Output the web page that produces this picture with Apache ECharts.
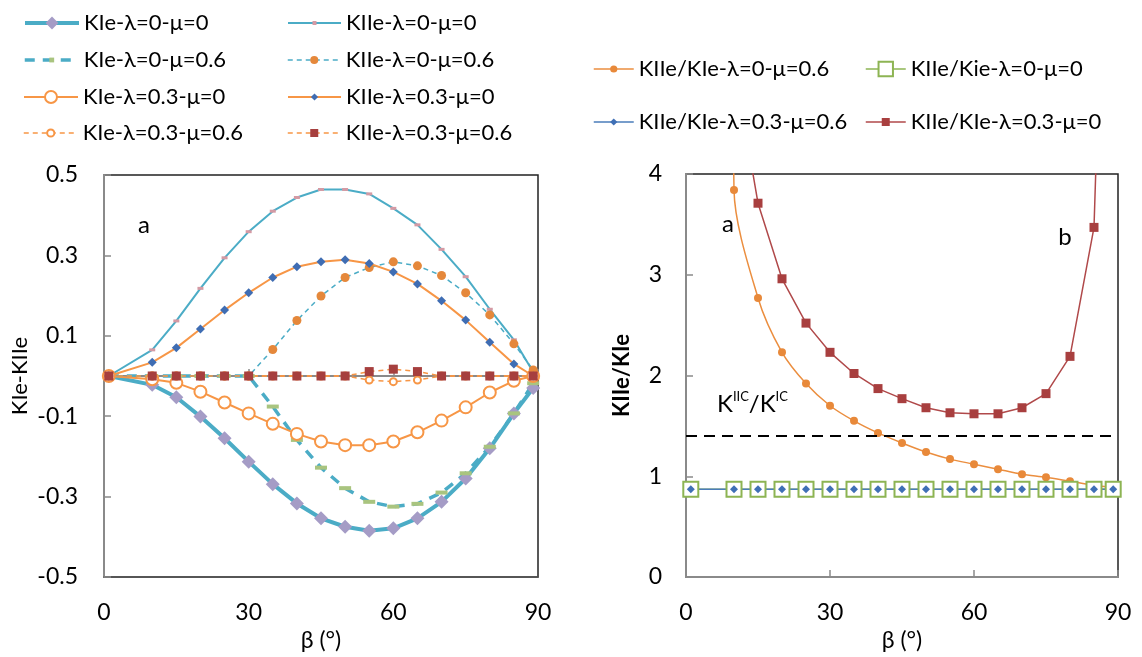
<!DOCTYPE html>
<html>
<head>
<meta charset="utf-8">
<script src="https://cdn.jsdelivr.net/npm/echarts@6/dist/echarts.min.js"></script>
<style>
  html, body { margin: 0; padding: 0; background: #fff; }
  #chart { width: 1142px; height: 657px; }
</style>
</head>
<body>
<div id="chart"></div>
<script>
// Crack inclination angle β (°) at which every curve is sampled
const beta = [1, 10, 15, 20, 25, 30, 35, 40, 45, 50, 55, 60, 65, 70, 75, 80, 85, 89];

// Left panel: stress intensity factors KIe and KIIe
const kIe_l0_m0    = [0, -0.022, -0.053, -0.101, -0.155, -0.213, -0.269, -0.317, -0.354, -0.375, -0.385, -0.379, -0.354, -0.313, -0.255, -0.180, -0.093, -0.030];
const kIe_l0_m06   = [0, 0, 0, 0, 0, 0, -0.076, -0.159, -0.228, -0.279, -0.313, -0.325, -0.318, -0.290, -0.242, -0.176, -0.093, -0.018];
const kIe_l03_m0   = [0, -0.008, -0.017, -0.039, -0.066, -0.093, -0.119, -0.144, -0.163, -0.172, -0.172, -0.163, -0.140, -0.111, -0.078, -0.041, -0.012, 0];
const kIe_l03_m06  = [0, 0, 0, 0, 0, 0, 0, 0, 0, 0, -0.010, -0.014, -0.010, 0, 0, 0, 0, 0];
const kIIe_l0_m0   = [0, 0.065, 0.137, 0.218, 0.294, 0.359, 0.410, 0.444, 0.464, 0.464, 0.453, 0.417, 0.376, 0.315, 0.247, 0.166, 0.090, 0.010];
const kIIe_l0_m06  = [0, 0, 0, 0, 0, 0, 0.066, 0.138, 0.199, 0.245, 0.270, 0.284, 0.274, 0.250, 0.207, 0.152, 0.080, 0.015];
const kIIe_l03_m0  = [0, 0.034, 0.070, 0.117, 0.164, 0.207, 0.245, 0.272, 0.284, 0.289, 0.280, 0.259, 0.229, 0.187, 0.139, 0.084, 0.030, 0];
const kIIe_l03_m06 = [0, 0, 0, 0, 0, 0, 0, 0, 0, 0, 0.011, 0.017, 0.011, 0, 0, 0, 0, 0];

// Right panel: ratio KIIe/KIe
const ratio_l0_m06  = [38, 3.84, 2.77, 2.23, 1.92, 1.70, 1.55, 1.43, 1.33, 1.24, 1.17, 1.12, 1.07, 1.02, 0.99, 0.95, 0.91, 0.89];
const ratio_l0_m0   = [0.87, 0.87, 0.87, 0.87, 0.87, 0.87, 0.87, 0.87, 0.87, 0.87, 0.87, 0.87, 0.87, 0.87, 0.87, 0.87, 0.87, 0.87];
const ratio_l03_m06 = [0.87, 0.87, 0.87, 0.87, 0.87, 0.87, 0.87, 0.87, 0.87, 0.87, 0.87, 0.87, 0.87, 0.87, 0.87, 0.87, 0.87, 0.87];
const ratio_l03_m0  = [null, 5.1, 3.71, 2.96, 2.52, 2.23, 2.02, 1.87, 1.77, 1.68, 1.63, 1.62, 1.62, 1.68, 1.82, 2.19, 3.47, 9.5];

// Fracture toughness ratio KIIC/KIC
const toughnessRatio = 1.4;

const FONT = 'Lato, "Open Sans", sans-serif';
const BLUE_LIGHT = '#4BACC6';
const ORANGE = '#F79646';
const AXIS_GRAY = '#8a8a8a';

const pairs = arr => beta.map((b, i) => [b, arr[i]]);

const chart = echarts.init(document.getElementById('chart'), null, { renderer: 'canvas' });

function legendItem(name, left, cy, itemWidth, itemHeight) {
  return {
    data: [name],
    left: left,
    top: cy - 13,
    padding: 0,
    itemWidth: itemWidth,
    itemHeight: itemHeight,
    selectedMode: false,
    lineStyle: { width: 'inherit' },
    textStyle: { fontFamily: FONT, fontSize: 22, color: '#000', lineHeight: 26 }
  };
}

const axisLabelStyle = { fontFamily: FONT, fontSize: 23, color: '#000' };

const option = {
  animation: false,
  backgroundColor: '#fff',
  legend: [
    legendItem('KIe-λ=0-μ=0', 23, 23, 54, 16),
    legendItem('KIe-λ=0-μ=0.6', 23, 60, 54, 6),
    legendItem('KIe-λ=0.3-μ=0', 23, 97, 54, 15),
    legendItem('KIe-λ=0.3-μ=0.6', 23, 133, 54, 9),
    legendItem('KIIe-λ=0-μ=0', 287, 23, 53, 5),
    legendItem('KIIe-λ=0-μ=0.6', 287, 60, 53, 10),
    legendItem('KIIe-λ=0.3-μ=0', 287, 97, 53, 9),
    legendItem('KIIe-λ=0.3-μ=0.6', 287, 133, 53, 10),
    legendItem('KIIe/KIe-λ=0-μ=0.6', 593, 69, 40, 9),
    legendItem('KIIe/Kie-λ=0-μ=0', 865, 69, 40, 18),
    legendItem('KIIe/KIe-λ=0.3-μ=0.6', 593, 122, 40, 9),
    legendItem('KIIe/KIe-λ=0.3-μ=0', 865, 122, 40, 10)
  ],
  grid: [
    { left: 104, top: 175, width: 434, height: 402, show: true, borderColor: '#222', borderWidth: 1.5, backgroundColor: 'transparent' },
    { left: 686, top: 174, width: 432, height: 403, show: true, borderColor: '#222', borderWidth: 1.5, backgroundColor: 'transparent' }
  ],
  xAxis: [
    {
      gridIndex: 0, type: 'value', min: 0, max: 90, interval: 30, position: 'bottom',
      name: 'β (°)', nameLocation: 'middle', nameGap: 50,
      nameTextStyle: axisLabelStyle,
      axisLine: { show: true, onZero: false, lineStyle: { color: '#555', width: 1.5 } },
      axisTick: { show: false },
      axisLabel: Object.assign({ margin: 24 }, axisLabelStyle),
      splitLine: { show: false }
    },
    {
      // horizontal axis line drawn through zero
      gridIndex: 0, type: 'value', min: 0, max: 90, interval: 30, position: 'bottom',
      axisLine: { show: true, onZero: true, onZeroAxisIndex: 0, lineStyle: { color: AXIS_GRAY, width: 2 } },
      axisTick: { show: true, inside: true, length: 7, lineStyle: { color: AXIS_GRAY, width: 1.5 } },
      axisLabel: { show: false },
      splitLine: { show: false }
    },
    {
      gridIndex: 1, type: 'value', min: 0, max: 90, interval: 30, position: 'bottom',
      name: 'β (°)', nameLocation: 'middle', nameGap: 50,
      nameTextStyle: axisLabelStyle,
      axisLine: { show: true, onZero: false, lineStyle: { color: AXIS_GRAY, width: 2 } },
      axisTick: { show: true, inside: true, length: 7, lineStyle: { color: AXIS_GRAY, width: 1.5 } },
      axisLabel: Object.assign({ margin: 24 }, axisLabelStyle),
      splitLine: { show: false }
    }
  ],
  yAxis: [
    {
      gridIndex: 0, type: 'value', min: -0.5, max: 0.5, interval: 0.2,
      name: 'KIe-KIIe', nameLocation: 'middle', nameGap: 73, nameRotate: 90,
      nameTextStyle: { fontFamily: FONT, fontSize: 22, color: '#000' },
      axisLine: { show: true, onZero: false, lineStyle: { color: AXIS_GRAY, width: 2 } },
      axisTick: { show: true, inside: true, length: 7, lineStyle: { color: AXIS_GRAY, width: 1.5 } },
      axisLabel: Object.assign({ margin: 26, formatter: v => v.toFixed(1) }, axisLabelStyle),
      splitLine: { show: false }
    },
    {
      gridIndex: 1, type: 'value', min: 0, max: 4, interval: 1,
      name: 'KIIe/KIe', nameLocation: 'middle', nameGap: 53, nameRotate: 90,
      nameTextStyle: { fontFamily: FONT, fontSize: 22, color: '#000', fontWeight: 'bold' },
      axisLine: { show: true, onZero: false, lineStyle: { color: AXIS_GRAY, width: 2 } },
      axisTick: { show: true, inside: true, length: 7, lineStyle: { color: AXIS_GRAY, width: 1.5 } },
      axisLabel: Object.assign({ margin: 24 }, axisLabelStyle),
      splitLine: { show: false }
    }
  ],
  graphic: [
    { type: 'text', x: 144, y: 225, style: { text: 'a', fontFamily: FONT, fontSize: 24, fill: '#000', align: 'center', verticalAlign: 'middle' } },
    { type: 'text', x: 728, y: 224, style: { text: 'a', fontFamily: FONT, fontSize: 24, fill: '#000', align: 'center', verticalAlign: 'middle' } },
    { type: 'text', x: 1065, y: 237, style: { text: 'b', fontFamily: FONT, fontSize: 24, fill: '#000', align: 'center', verticalAlign: 'middle' } },
    {
      type: 'text', x: 717, y: 404,
      style: {
        text: 'K{s|IIC}/K{s|IC}', fontFamily: FONT, fontSize: 24, fill: '#000',
        align: 'left', verticalAlign: 'middle', lineHeight: 28,
        rich: { s: { fontFamily: FONT, fontSize: 13, fill: '#000', lineHeight: 22, verticalAlign: 'top' } }
      }
    }
  ],
  series: [
    // ---- left panel ----
    {
      name: 'KIe-λ=0-μ=0', type: 'line', xAxisIndex: 0, yAxisIndex: 0, data: pairs(kIe_l0_m0),
      lineStyle: { color: BLUE_LIGHT, width: 4 }, symbol: 'diamond', symbolSize: 14,
      itemStyle: { color: '#A59CC6' }
    },
    {
      name: 'KIe-λ=0-μ=0.6', type: 'line', xAxisIndex: 0, yAxisIndex: 0, data: pairs(kIe_l0_m06),
      lineStyle: { color: BLUE_LIGHT, width: 3.5, type: [10, 8] }, symbol: 'rect', symbolSize: [12, 4],
      itemStyle: { color: '#A9C47F' }
    },
    {
      name: 'KIe-λ=0.3-μ=0', type: 'line', xAxisIndex: 0, yAxisIndex: 0, data: pairs(kIe_l03_m0),
      lineStyle: { color: ORANGE, width: 2 }, symbol: 'emptyCircle', symbolSize: 12,
      itemStyle: { color: ORANGE, borderWidth: 1.5 }
    },
    {
      name: 'KIe-λ=0.3-μ=0.6', type: 'line', xAxisIndex: 0, yAxisIndex: 0, data: pairs(kIe_l03_m06),
      lineStyle: { color: ORANGE, width: 1.5, type: [5, 4] }, symbol: 'emptyCircle', symbolSize: 7,
      itemStyle: { color: ORANGE, borderWidth: 1.2 }
    },
    {
      name: 'KIIe-λ=0-μ=0', type: 'line', xAxisIndex: 0, yAxisIndex: 0, data: pairs(kIIe_l0_m0),
      lineStyle: { color: BLUE_LIGHT, width: 2 }, symbol: 'rect', symbolSize: [6, 3],
      itemStyle: { color: '#D49AA4' }
    },
    {
      name: 'KIIe-λ=0-μ=0.6', type: 'line', xAxisIndex: 0, yAxisIndex: 0, data: pairs(kIIe_l0_m06),
      lineStyle: { color: BLUE_LIGHT, width: 1.5, type: [5, 4] }, symbol: 'circle', symbolSize: 9,
      itemStyle: { color: '#E5883B' }
    },
    {
      name: 'KIIe-λ=0.3-μ=0', type: 'line', xAxisIndex: 0, yAxisIndex: 0, data: pairs(kIIe_l03_m0),
      lineStyle: { color: ORANGE, width: 2 }, symbol: 'diamond', symbolSize: 9,
      itemStyle: { color: '#3F6DB3' }
    },
    {
      name: 'KIIe-λ=0.3-μ=0.6', type: 'line', xAxisIndex: 0, yAxisIndex: 0, data: pairs(kIIe_l03_m06),
      lineStyle: { color: ORANGE, width: 1.5, type: [5, 4] }, symbol: 'rect', symbolSize: 9,
      itemStyle: { color: '#A63F3E' }
    },
    // ---- right panel ----
    {
      name: 'KIIe/KIe-λ=0-μ=0.6', type: 'line', xAxisIndex: 2, yAxisIndex: 1, data: pairs(ratio_l0_m06),
      smooth: 0.3, lineStyle: { color: '#EB8E3F', width: 1.5 }, symbol: 'circle', symbolSize: 8,
      itemStyle: { color: '#E8893A' }
    },
    {
      name: 'KIIe/Kie-λ=0-μ=0', type: 'line', xAxisIndex: 2, yAxisIndex: 1, data: pairs(ratio_l0_m0),
      lineStyle: { color: '#8DB453', width: 1.5 }, symbol: 'emptyRect', symbolSize: 15,
      itemStyle: { color: '#8DB453', borderWidth: 1.5 }
    },
    {
      name: 'KIIe/KIe-λ=0.3-μ=0.6', type: 'line', xAxisIndex: 2, yAxisIndex: 1, data: pairs(ratio_l03_m06),
      lineStyle: { color: '#4A7DBA', width: 1.5 }, symbol: 'diamond', symbolSize: 8,
      itemStyle: { color: '#3F6FB5' }
    },
    {
      name: 'KIIe/KIe-λ=0.3-μ=0', type: 'line', xAxisIndex: 2, yAxisIndex: 1, data: pairs(ratio_l03_m0),
      lineStyle: { color: '#B0494A', width: 1.5 }, symbol: 'rect', symbolSize: 9,
      itemStyle: { color: '#A83F3F' },
      markLine: {
        silent: true, symbol: 'none', label: { show: false },
        lineStyle: { color: '#000', width: 2, type: [11, 7] },
        data: [{ yAxis: toughnessRatio }]
      }
    }
  ]
};

chart.setOption(option);
</script>
</body>
</html>
